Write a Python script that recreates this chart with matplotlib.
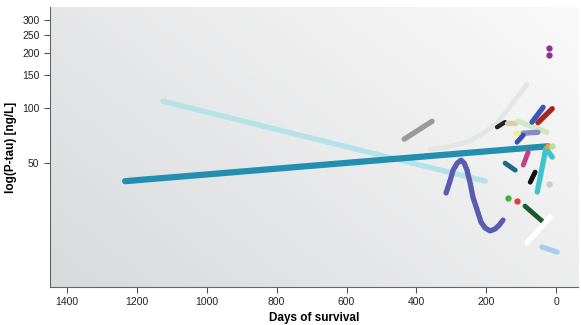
import numpy as np
import matplotlib.pyplot as plt
from matplotlib.ticker import FixedLocator, FixedFormatter, NullLocator

plt.rcParams['font.family'] = ['Liberation Sans', 'DejaVu Sans']

# 환자별 추적 자료 (생존 일수, P-tau)
teal_days = [1234, 23]
teal_ptau = [39.9, 61.8]

cyan_days = [1125, 203]
cyan_ptau = [108.6, 39.9]

gray_days = [435, 355]
gray_ptau = [67.5, 84.5]

pale_days = [361, 312, 255, 209, 169, 132, 103, 83]
pale_ptau = [59.6, 61.1, 65.0, 72.8, 82.5, 101.6, 119.6, 134.0]

wave_days = [315, 303, 295, 283, 272, 263, 255, 246, 238, 226, 215, 203, 189, 175, 163, 152]
wave_ptau = [34.4, 40.4, 45.8, 50.0, 51.9, 50.0, 45.8, 38.9, 32.6, 27.8, 23.9, 22.2, 21.4, 21.9, 23.0, 24.5]

purple_days = [20, 20]
purple_ptau = [211, 195]

black_days = [169, 146]
black_ptau = [78.5, 83.6]
tan_days = [140, 117]
tan_ptau = [83.0, 83.0]
green_days = [109, 26]
green_ptau = [84.5, 73.6]
blue_days = [69, 37]
blue_ptau = [83.6, 100.7]
red_days = [52, 11]
red_ptau = [83.0, 99.0]
yellow_days = [117, 83]
yellow_ptau = [72.8, 72.8]
lav_days = [94, 52]
lav_ptau = [72.8, 73.6]
navy_days = [112, 94]
navy_ptau = [65.0, 71.0]
mag_days = [94, 80]
mag_ptau = [48.8, 57.4]
dteal_days = [146, 117]
dteal_ptau = [50.0, 45.8]
black2_days = [74, 60]
black2_ptau = [39.4, 44.7]
turq_days = [54, 29, 11]
turq_ptau = [34.8, 60.4, 53.9]
dgreen_days = [89, 40]
dgreen_ptau = [29.2, 24.2]
white_days = [83, 17]
white_ptau = [18.4, 25.5]
lblue_days = [40, -3]
lblue_ptau = [17.5, 16.4]

dot_days = [20, 137, 112, 23, 11]
dot_ptau = [38.5, 32.3, 31.0, 61.8, 62.0]
dot_colors = ['#cccccc', '#40b040', '#e83838', '#f0a030', '#b8e0a8']

fig = plt.figure(figsize=(5.81, 3.25), dpi=100)
ax = fig.add_axes([0.086, 0.117, 0.909, 0.861])
ax.set_yscale('log')
ax.set_xlim(1449, -63)
ax.set_ylim(10.6, 353)

# 배경 그라데이션
gx, gy = np.meshgrid(np.linspace(0, 1, 200), np.linspace(0, 1, 200))
grad = (gx * 0.6 + gy * 0.4)
ax.imshow(grad, extent=[0, 1, 0, 1], transform=ax.transAxes, origin='lower',
          cmap=plt.matplotlib.colors.LinearSegmentedColormap.from_list('bg', ['#d9dadc', '#fafafa']),
          aspect='auto', zorder=0)

kw = dict(solid_capstyle='round', solid_joinstyle='round', zorder=2)
ax.plot(pale_days, pale_ptau, color='#e4e5e7', lw=3.4, **kw)
ax.plot(cyan_days, cyan_ptau, color='#b3e3e8', lw=3.8, **kw)
ax.plot(teal_days, teal_ptau, color='#238fb0', lw=4.5, **kw)
ax.plot(gray_days, gray_ptau, color='#9a9a9a', lw=3.8, **kw)
ax.plot(wave_days, wave_ptau, color='#5a5cb0', lw=3.8, **kw)
ax.plot(purple_days, purple_ptau, 'o', color='#8a3090', ms=3.5, zorder=3)

ax.plot(black_days, black_ptau, color='#222222', lw=3.2, **kw)
ax.plot(tan_days, tan_ptau, color='#d8cfa0', lw=3.8, **kw)
ax.plot(green_days, green_ptau, color='#cfe8c0', lw=3.8, **kw)
ax.plot(yellow_days, yellow_ptau, color='#f2ee88', lw=3.8, **kw)
ax.plot(lav_days, lav_ptau, color='#8888c8', lw=3.8, **kw)
ax.plot(blue_days, blue_ptau, color='#3858b8', lw=3.8, **kw)
ax.plot(red_days, red_ptau, color='#b0201e', lw=3.8, **kw)
ax.plot(navy_days, navy_ptau, color='#3550b0', lw=3.5, **kw)
ax.plot(mag_days, mag_ptau, color='#c04088', lw=3.5, **kw)
ax.plot(dteal_days, dteal_ptau, color='#1f6a85', lw=3.5, **kw)
ax.plot(black2_days, black2_ptau, color='#111111', lw=3.5, **kw)
ax.plot(turq_days, turq_ptau, color='#40c4cc', lw=3.8, **kw)
ax.plot(dgreen_days, dgreen_ptau, color='#1a5a30', lw=3.5, **kw)
ax.plot(white_days, white_ptau, color='#ffffff', lw=3.8, **kw)
ax.plot(lblue_days, lblue_ptau, color='#a8cbee', lw=3.8, **kw)
for d, p, c in zip(dot_days, dot_ptau, dot_colors):
    ax.plot(d, p, 'o', color=c, ms=3.5, zorder=3)

# 축 설정
yt = [50, 100, 150, 200, 250, 300]
ax.yaxis.set_major_locator(FixedLocator(yt))
ax.yaxis.set_major_formatter(FixedFormatter([str(v) for v in yt]))
ax.yaxis.set_minor_locator(NullLocator())
ax.set_xticks([1400, 1200, 1000, 800, 600, 400, 200, 0])

for s in ['top', 'right']:
    ax.spines[s].set_visible(False)
for s in ['left', 'bottom']:
    ax.spines[s].set_color('#666666')
    ax.spines[s].set_linewidth(0.8)
ax.tick_params(colors='#555555', labelcolor='#222222', labelsize=7.5, length=4, width=0.8)

ax.set_xlabel('Days of survival', fontsize=8.5, fontweight='bold', labelpad=3)
ax.set_ylabel('log(P-tau) [ng/L]', fontsize=8.5, fontweight='bold', labelpad=4)

plt.savefig('out.png', dpi=100)
plt.close()
